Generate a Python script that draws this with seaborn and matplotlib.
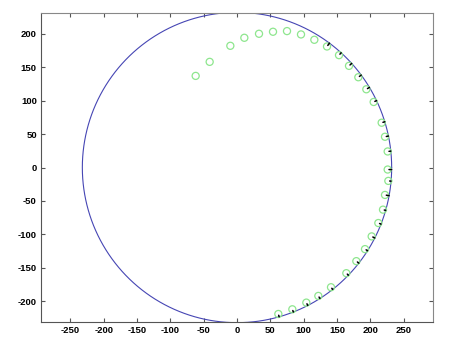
import numpy as np
import pandas as pd
import matplotlib
matplotlib.use("Agg")
import matplotlib.pyplot as plt
import seaborn as sns

# ---- data ----
circle_radius = 232
point_x = [-62, -41, -10, 11, 33, 54, 75, 96, 116, 135, 153, 168, 182, 194, 205,
           217, 222, 226, 226, 227, 222, 219, 212, 202, 192, 179, 164, 141, 122, 104, 83, 62]
point_y = [137, 158, 182, 194, 200, 203, 204, 199, 191, 181, 168, 152, 135, 117, 98,
           67, 46, 24, -3, -20, -41, -63, -83, -103, -122, -140, -158, -179, -192, -202, -212, -219]
x_ticks = [-250, -200, -150, -100, -50, 0, 50, 100, 150, 200, 250]
y_ticks = [-200, -150, -100, -50, 0, 50, 100, 150, 200]

sns.set_theme(style="white")
plt.rcParams['font.family'] = ['Liberation Sans', 'DejaVu Sans']

fig = plt.figure(figsize=(4.67, 3.43), dpi=100)
fig.patch.set_facecolor("white")
ax = fig.add_axes([0.0878, 0.0612, 0.8394, 0.9008])

theta = np.linspace(0, 2 * np.pi, 721)
circ = pd.DataFrame({"x": circle_radius * np.cos(theta), "y": circle_radius * np.sin(theta)})
sns.lineplot(data=circ, x="x", y="y", sort=False, estimator=None, color="#4646b4", linewidth=0.8, ax=ax)

pts = pd.DataFrame({"x": point_x, "y": point_y})
sns.scatterplot(data=pts, x="x", y="y", marker="o", s=26, facecolors="none",
                edgecolor="#8ee68e", linewidth=0.9, ax=ax, zorder=3)

# short black marks linking points near the circle to it
px = np.array(point_x, float)
py = np.array(point_y, float)
r = np.hypot(px, py)
for xi, yi, ri in zip(px, py, r):
    if ri > 224:
        ux, uy = xi / ri, yi / ri
        ax.plot([ux * (ri + 2), ux * circle_radius], [uy * (ri + 2), uy * circle_radius],
                color="black", linewidth=1.1, zorder=4)

ax.set_xlim(-294, 294)
ax.set_ylim(-231, 231)
ax.set_xticks(x_ticks)
ax.set_yticks(y_ticks)
ax.set_xticklabels([str(t) for t in x_ticks], fontsize=6.8, fontweight="bold")
ax.set_yticklabels([str(t) for t in y_ticks], fontsize=6.8, fontweight="bold")
ax.set_xlabel("")
ax.set_ylabel("")
ax.tick_params(direction="in", length=3, width=0.8, top=True, right=True,
               bottom=True, left=True, colors="#555555", labelcolor="black", pad=3)
for side in ["left", "bottom"]:
    ax.spines[side].set_color("#555555")
for side in ["top", "right"]:
    ax.spines[side].set_color("#888888")
for s in ax.spines.values():
    s.set_linewidth(0.8)
if ax.get_legend():
    ax.get_legend().remove()

fig.savefig("out.png", dpi=100, facecolor="white")
